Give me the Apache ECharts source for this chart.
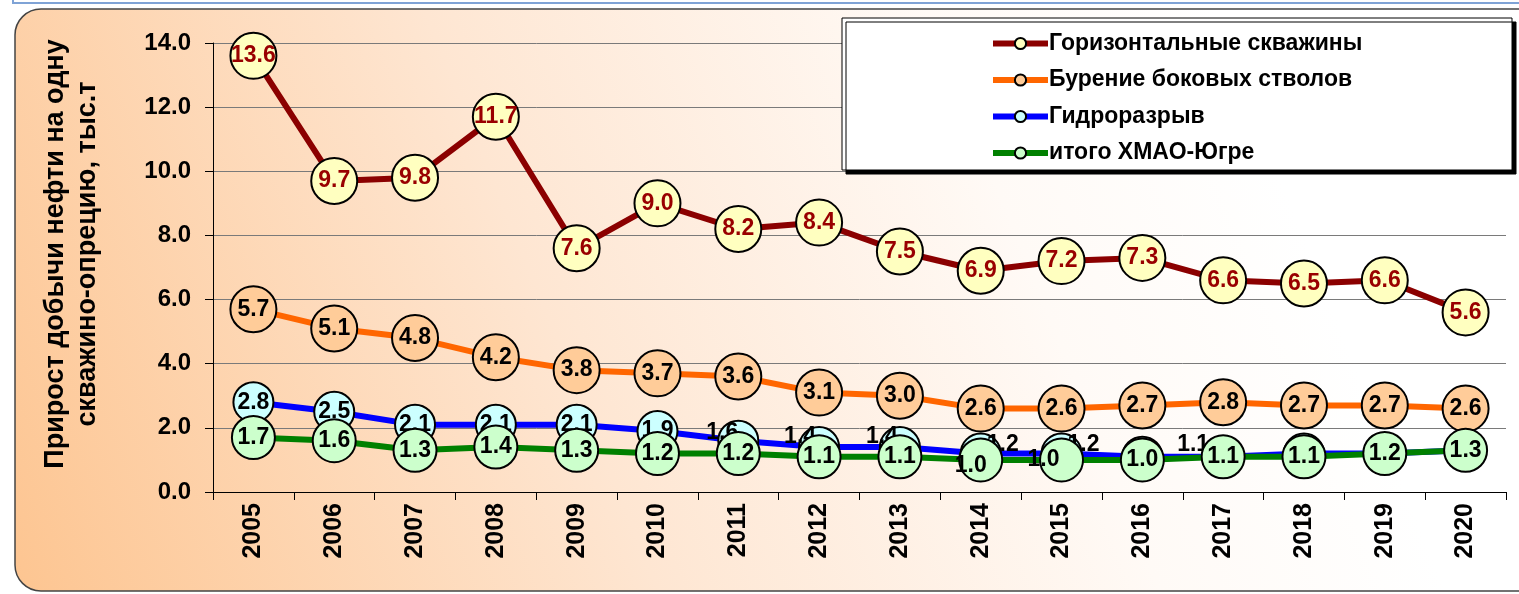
<!DOCTYPE html>
<html>
<head>
<meta charset="utf-8">
<title>Прирост добычи нефти</title>
<script src="https://cdn.jsdelivr.net/npm/echarts@6/dist/echarts.min.js"></script>
<style>
  html, body { margin: 0; padding: 0; background: #fff; }
  #chart { width: 1519px; height: 594px; }
</style>
</head>
<body>
<div id="chart"></div>
<script>
const years = ['2005', '2006', '2007', '2008', '2009', '2010', '2011', '2012',
  '2013', '2014', '2015', '2016', '2017', '2018', '2019', '2020'];

// Горизонтальные скважины
const horizontal = [13.6, 9.7, 9.8, 11.7, 7.6, 9.0, 8.2, 8.4, 7.5, 6.9, 7.2, 7.3, 6.6, 6.5, 6.6, 5.6];
// Бурение боковых стволов
const sidetracks = [5.7, 5.1, 4.8, 4.2, 3.8, 3.7, 3.6, 3.1, 3.0, 2.6, 2.6, 2.7, 2.8, 2.7, 2.7, 2.6];
// Гидроразрыв
const fracturing = [2.8, 2.5, 2.1, 2.1, 2.1, 1.9, 1.6, 1.4, 1.4, 1.2, 1.2, 1.1, 1.1, 1.2, 1.2, 1.3];
// итого ХМАО-Югре
const total = [1.7, 1.6, 1.3, 1.4, 1.3, 1.2, 1.2, 1.1, 1.1, 1.0, 1.0, 1.0, 1.1, 1.1, 1.2, 1.3];

const seriesNames = ['Горизонтальные скважины', 'Бурение боковых стволов', 'Гидроразрыв', 'итого ХМАО-Югре'];
const yName = 'Прирост добычи нефти на одну\nскважино-опрецию, тыс.т';

// label shifts, as Excel placed them
const fracShift = { 6: [-16, -8], 7: [-19, -10], 8: [-18, -10], 9: [22, -9], 10: [22, -9], 12: [-30, -12] };
const totalShift = { 9: [-10, 6], 10: [-18, 0] };

function withShift(values, shifts) {
  return values.map((v, i) => shifts[i] ? { value: v, label: { offset: shifts[i] } } : v);
}

const font = '"Liberation Sans", Arial, sans-serif';

function lineSeries(name, data, lineColor, fill, labelColor, size, z) {
  return {
    name: name,
    type: 'line',
    data: data,
    z: z,
    symbol: 'circle',
    symbolSize: size,
    lineStyle: { color: lineColor, width: 6 },
    itemStyle: { color: fill, borderColor: '#000', borderWidth: 2 },
    label: {
      show: true,
      position: 'inside',
      formatter: p => Number(p.value).toFixed(1),
      color: labelColor,
      fontFamily: font,
      fontSize: 23,
      fontWeight: 'bold'
    },
    emphasis: { disabled: true },
    animation: false
  };
}

const chart = echarts.init(document.getElementById('chart'));
chart.setOption({
  animation: false,
  graphic: [
    {
      type: 'rect', z: -10,
      shape: { x: 13, y: -10, width: 1520, height: 13 },
      style: { fill: '#fff', stroke: '#7fa3d6', lineWidth: 2 }
    },
    {
      type: 'rect', z: -10,
      shape: { x: 15, y: 9, width: 1540, height: 582, r: [26, 0, 0, 26] },
      style: {
        stroke: '#444', lineWidth: 1.5,
        fill: new echarts.graphic.LinearGradient(0, 1, 0.8, 0.15, [
          { offset: 0, color: '#fdc591' },
          { offset: 0.45, color: '#fee6d2' },
          { offset: 0.8, color: '#fffaf6' },
          { offset: 1, color: '#ffffff' }
        ])
      }
    },
    {
      type: 'rect', z: 1,
      shape: { x: 842, y: 18, width: 670, height: 152 },
      style: {
        fill: '#fff', stroke: '#000', lineWidth: 1,
        shadowColor: '#000', shadowOffsetX: 4, shadowOffsetY: 4, shadowBlur: 0
      }
    },
    {
      type: 'text', z: 5,
      x: 72, y: 254, rotation: Math.PI / 2,
      style: {
        text: yName, align: 'center', verticalAlign: 'middle',
        font: 'bold 27px ' + font, lineHeight: 32, fill: '#000'
      }
    }
  ],
  legend: {
    orient: 'vertical',
    left: 985,
    top: 27,
    itemWidth: 55,
    itemHeight: 14,
    itemGap: 13.5,
    lineStyle: { width: 6 },
    textStyle: { fontFamily: font, fontSize: 23, fontWeight: 'bold', color: '#000', padding: [0, 0, 0, -4] },
    data: seriesNames,
    selectedMode: false
  },
  grid: { left: 213, right: 13, top: 43, bottom: 102, containLabel: false },
  xAxis: {
    type: 'category',
    data: years,
    boundaryGap: true,
    axisLine: { lineStyle: { color: '#000', width: 1 } },
    axisTick: { show: true, length: 8, interval: 0, lineStyle: { color: '#000' } },
    axisLabel: {
      interval: 0, rotate: 90, margin: 11,
      fontFamily: font, fontSize: 25, fontWeight: 'bold', color: '#000'
    },
    splitLine: { show: false }
  },
  yAxis: {
    type: 'value',
    min: 0, max: 14, interval: 2,
    axisLine: { show: true, lineStyle: { color: '#000', width: 1 } },
    axisTick: { show: true, length: 8, lineStyle: { color: '#000' } },
    axisLabel: {
      margin: 22, formatter: v => v.toFixed(1),
      fontFamily: font, fontSize: 24, fontWeight: 'bold', color: '#000'
    },
    splitLine: { show: true, lineStyle: { color: '#7a7a7a', width: 1 } }
  },
  series: [
    lineSeries(seriesNames[0], horizontal, '#8b0000', '#ffffc0', '#990000', 46, 2),
    lineSeries(seriesNames[1], sidetracks, '#ff6600', '#ffcc99', '#000', 46, 3),
    lineSeries(seriesNames[2], withShift(fracturing, fracShift), '#0000ff', '#ccffff', '#000', 40, 4),
    lineSeries(seriesNames[3], withShift(total, totalShift), '#008000', '#ccffcc', '#000', 43, 5)
  ]
});
</script>
</body>
</html>
